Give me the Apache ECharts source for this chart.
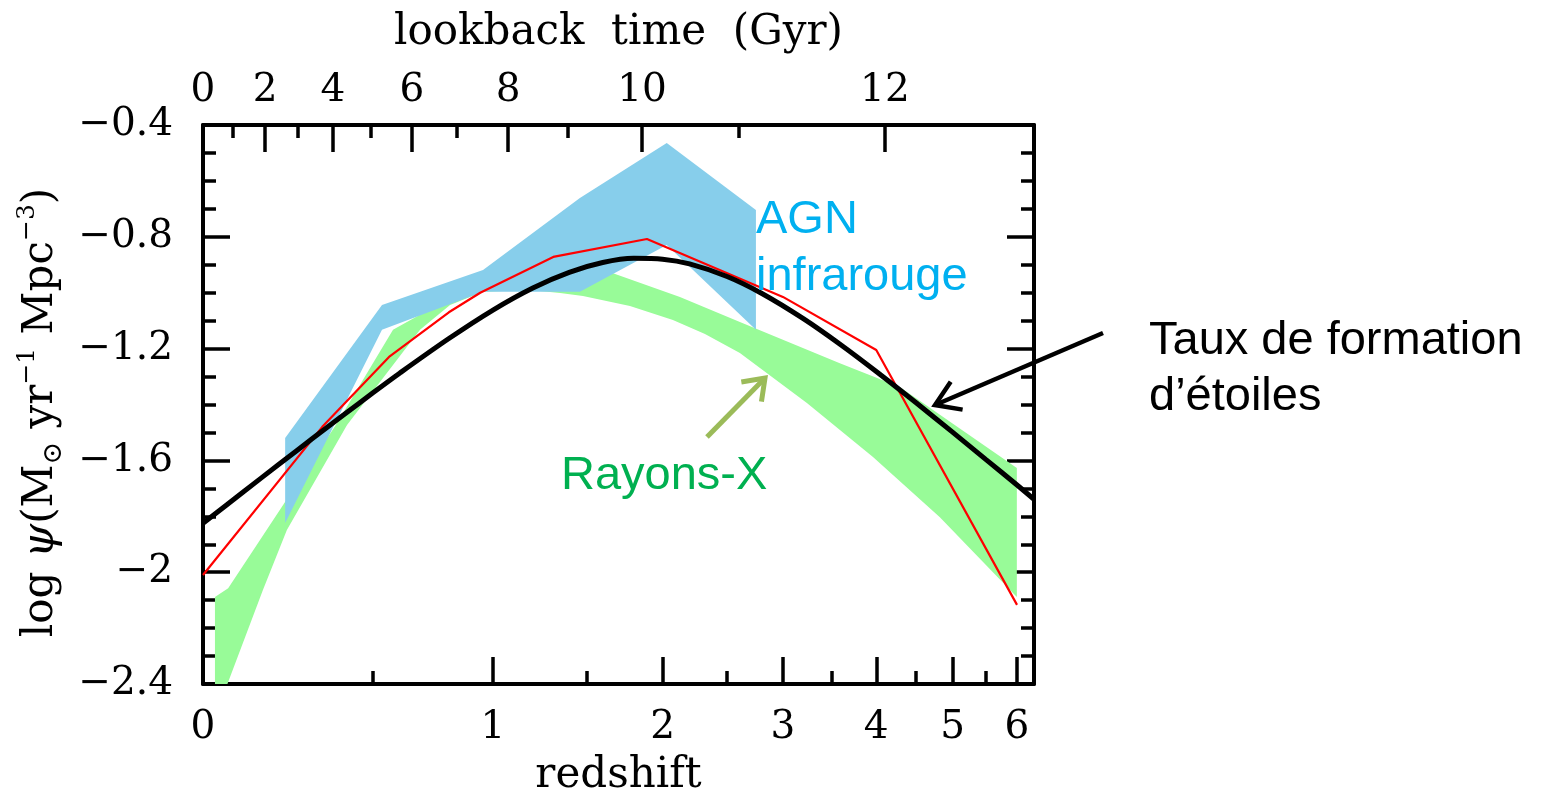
<!DOCTYPE html>
<html>
<head>
<meta charset="utf-8">
<script src="https://cdn.jsdelivr.net/npm/echarts@6/dist/echarts.min.js"></script>
<style>
  html, body { margin: 0; padding: 0; background: #ffffff; }
  #chart { width: 1544px; height: 792px; }
</style>
</head>
<body>
<div id="chart"></div>
<script>
// The redshift axis is drawn in log10(1 + z); every value below is stored in z.
const zMax = 6.29;
const psiMin = -2.4;
const psiMax = -0.4;
const psiStep = 0.4;

// Bottom axis (redshift)
const redshiftMajor = [0, 1, 2, 3, 4, 5, 6];
const redshiftMinor = [0.5, 1.5, 2.5, 3.5, 4.5, 5.5];

// Top axis: lookback time (Gyr) and the redshift at which each tick sits
const lookbackMajor  = [0, 2, 4, 6, 8, 10, 12];
const lookbackMajorZ = [0, 0.160, 0.364, 0.648, 1.074, 1.856, 4.104];
const lookbackMinor  = [1, 3, 5, 7, 9, 11];
const lookbackMinorZ = [0.074, 0.255, 0.494, 0.835, 1.392, 2.601];

// Cosmic star formation rate density (thick black curve)
const sfrZ   = [0, 0.1, 0.2, 0.3, 0.4, 0.5, 0.6, 0.8, 1.0, 1.2, 1.4, 1.6, 1.8, 2.0, 2.2, 2.5, 2.8, 3.2, 3.6, 4.0, 4.5, 5.0, 5.5, 6.0, 6.3];
const sfrPsi = [-1.825, -1.714, -1.613, -1.521, -1.437, -1.359, -1.288, -1.164, -1.062, -0.983, -0.927, -0.892, -0.877, -0.880, -0.897, -0.942, -1.002, -1.093, -1.188, -1.282, -1.394, -1.499, -1.597, -1.688, -1.741];

// Thin red curve
const redZ   = [0, 0.33, 0.56, 0.80, 0.94, 1.31, 1.89, 3.0, 4.0, 6.0];
const redPsi = [-2.010, -1.480, -1.230, -1.070, -1.000, -0.872, -0.808, -1.015, -1.205, -2.117];

// AGN (infrared) band: upper edge left to right, lower edge left to right
const agnUpperZ   = [0.217, 0.534, 0.953, 1.462, 2.030, 2.750];
const agnUpperPsi = [-1.520, -1.044, -0.919, -0.661, -0.464, -0.704];
const agnLowerZ   = [0.217, 0.534, 0.953, 1.462, 2.030, 2.750];
const agnLowerPsi = [-1.824, -1.133, -0.997, -0.997, -0.829, -1.133];

// X-ray band: upper edge left to right, lower edge left to right
const xrayUpperZ   = [0.029, 0.062, 0.202, 0.378, 0.575, 0.805, 1.133, 1.522, 1.665, 2.127, 2.609, 3.583, 4.290, 5.997];
const xrayUpperPsi = [-2.089, -2.057, -1.777, -1.466, -1.133, -1.019, -0.955, -0.919, -0.930, -1.015, -1.105, -1.252, -1.337, -1.627];
const xrayLowerZ   = [0.029, 0.154, 0.222, 0.411, 0.680, 0.805, 0.953, 1.185, 1.348, 1.480, 1.775, 2.075, 2.320, 2.609, 3.236, 3.961, 4.821, 5.997];
const xrayLowerPsi = [-2.518, -2.064, -1.849, -1.473, -1.133, -1.044, -0.997, -0.990, -1.001, -1.012, -1.048, -1.098, -1.148, -1.216, -1.395, -1.588, -1.803, -2.089];

const lz = z => Math.log10(1 + z);
const pairs = (zs, ps) => zs.map((z, i) => [lz(z), ps[i]]);

const SERIF = 'DejaVu Serif';
const SANS = 'Liberation Sans';
const INK = '#000000';

const frameLine = { show: true, onZero: false, lineStyle: { color: INK, width: 4 } };
const noLine = { show: false, onZero: false };

function labelFor(values, labels) {
  return v => {
    let best = 0;
    values.forEach((x, i) => { if (Math.abs(x - v) < Math.abs(values[best] - v)) best = i; });
    return String(labels[best]);
  };
}

function xAxisDef(position, tickVals, tickLen, withFrame, labels, name, nameGap) {
  const def = {
    type: 'value', position, min: 0, max: lz(zMax),
    axisLine: withFrame ? frameLine : noLine,
    axisTick: { show: true, inside: true, length: tickLen, customValues: tickVals,
                lineStyle: { color: INK, width: 3.5 } },
    splitLine: { show: false },
    axisLabel: { show: false }
  };
  if (labels) {
    def.axisLabel = {
      show: true, customValues: tickVals, formatter: labelFor(tickVals, labels),
      color: INK, fontFamily: SERIF, fontSize: 39, margin: position === 'top' ? 15 : 24
    };
  }
  if (name) {
    def.name = name;
    def.nameLocation = 'middle';
    def.nameGap = nameGap;
    def.nameTextStyle = { color: INK, fontFamily: SERIF, fontSize: 42 };
  }
  return def;
}

function yAxisDef(position, withLabels) {
  const def = {
    type: 'value', position, min: psiMin, max: psiMax, interval: psiStep,
    axisLine: frameLine,
    axisTick: { show: true, inside: true, length: 27, lineStyle: { color: INK, width: 3.5 } },
    minorTick: { show: true, splitNumber: 4, length: 13, lineStyle: { color: INK, width: 3.5 } },
    splitLine: { show: false },
    axisLabel: { show: false }
  };
  if (withLabels) {
    def.axisLabel = {
      show: true, color: INK, fontFamily: SERIF, fontSize: 39, margin: 30,
      formatter: v => String(Number(v.toFixed(1))).replace('-', '\u2212')
    };
    def.name = '{t|log }{g|\u03c8}{t|(M}{sub|\u2299}{t| yr}{sup|\u22121}{t| Mpc}{sup|\u22123}{t|)}';
    def.nameLocation = 'middle';
    def.nameGap = 134;
    def.nameTextStyle = {
      color: INK, fontFamily: SERIF, fontSize: 42, padding: [0, 16, 0, 0],
      rich: {
        t:   { fontFamily: SERIF, fontSize: 42, lineHeight: 52, verticalAlign: 'middle', color: INK },
        g:   { fontFamily: SERIF, fontSize: 44, fontStyle: 'italic', lineHeight: 52, verticalAlign: 'middle', color: INK },
        sub: { fontFamily: SERIF, fontSize: 27, lineHeight: 29, verticalAlign: 'bottom', color: INK },
        sup: { fontFamily: SERIF, fontSize: 25, lineHeight: 27, verticalAlign: 'top', color: INK }
      }
    };
  }
  return def;
}

function band(upperZ, upperPsi, lowerZ, lowerPsi, color) {
  const edge = pairs(upperZ, upperPsi).concat(pairs(lowerZ, lowerPsi).reverse());
  return {
    type: 'custom', xAxisIndex: 0, yAxisIndex: 0, clip: true, silent: true,
    data: [[0, psiMin]],
    renderItem: (params, api) => ({
      type: 'polygon',
      shape: { points: edge.map(p => api.coord(p)) },
      style: { fill: color, stroke: null }
    })
  };
}

function arrow(x1, y1, x2, y2, color, width, headLen, headAngle) {
  const a = Math.atan2(y2 - y1, x2 - x1);
  const h1 = a + Math.PI - headAngle, h2 = a + Math.PI + headAngle;
  return [
    { type: 'line', z: 100, shape: { x1, y1, x2, y2 },
      style: { stroke: color, lineWidth: width, lineCap: 'butt' } },
    { type: 'polyline', z: 100,
      shape: { points: [[x2 + headLen * Math.cos(h1), y2 + headLen * Math.sin(h1)], [x2, y2],
                        [x2 + headLen * Math.cos(h2), y2 + headLen * Math.sin(h2)]] },
      style: { stroke: color, lineWidth: width, fill: null, lineJoin: 'miter', lineCap: 'butt' } }
  ];
}

function note(text, x, y, color) {
  return { type: 'text', z: 100, x, y,
           style: { text, fill: color, fontFamily: SANS, fontSize: 47, align: 'left', verticalAlign: 'middle' } };
}

const chart = echarts.init(document.getElementById('chart'), null, { renderer: 'canvas' });

chart.setOption({
  animation: false,
  backgroundColor: '#ffffff',
  textStyle: { fontFamily: SERIF },
  grid: { left: 203, top: 125, width: 831, height: 559, containLabel: false, outerBoundsMode: 'none' },
  xAxis: [
    xAxisDef('bottom', redshiftMajor.map(lz), 27, true, redshiftMajor, 'redshift', 71),
    xAxisDef('bottom', redshiftMinor.map(lz), 13, false, null, null, 0),
    xAxisDef('top', lookbackMajorZ.map(lz), 27, true, lookbackMajor, 'lookback  time  (Gyr)', 71),
    xAxisDef('top', lookbackMinorZ.map(lz), 13, false, null, null, 0)
  ],
  yAxis: [
    yAxisDef('left', true),
    yAxisDef('right', false)
  ],
  series: [
    band(xrayUpperZ, xrayUpperPsi, xrayLowerZ, xrayLowerPsi, '#98FB98'),
    band(agnUpperZ, agnUpperPsi, agnLowerZ, agnLowerPsi, '#87CEEB'),
    {
      type: 'line', name: 'red', xAxisIndex: 0, yAxisIndex: 0,
      data: pairs(redZ, redPsi), showSymbol: false, symbol: 'none',
      lineStyle: { color: '#FF0000', width: 2.2 }, z: 3
    },
    {
      type: 'line', name: 'sfr', xAxisIndex: 0, yAxisIndex: 0,
      data: pairs(sfrZ, sfrPsi), showSymbol: false, symbol: 'none', smooth: 0.3,
      lineStyle: { color: INK, width: 5 }, z: 4
    }
  ],
  graphic: [
    note('AGN', 756, 220, '#00B0F0'),
    note('infrarouge', 756, 277, '#00B0F0'),
    note('Rayons-X', 561, 476, '#00B050'),
    note('Taux de formation', 1149, 341, INK),
    note('d\u2019\u00e9toiles', 1149, 397, INK),
    ...arrow(707, 437, 765, 378, '#9BBB59', 5, 24, Math.PI / 5),
    ...arrow(1103, 333, 935, 405, INK, 4.5, 28, Math.PI / 5.5)
  ]
});
</script>
</body>
</html>
